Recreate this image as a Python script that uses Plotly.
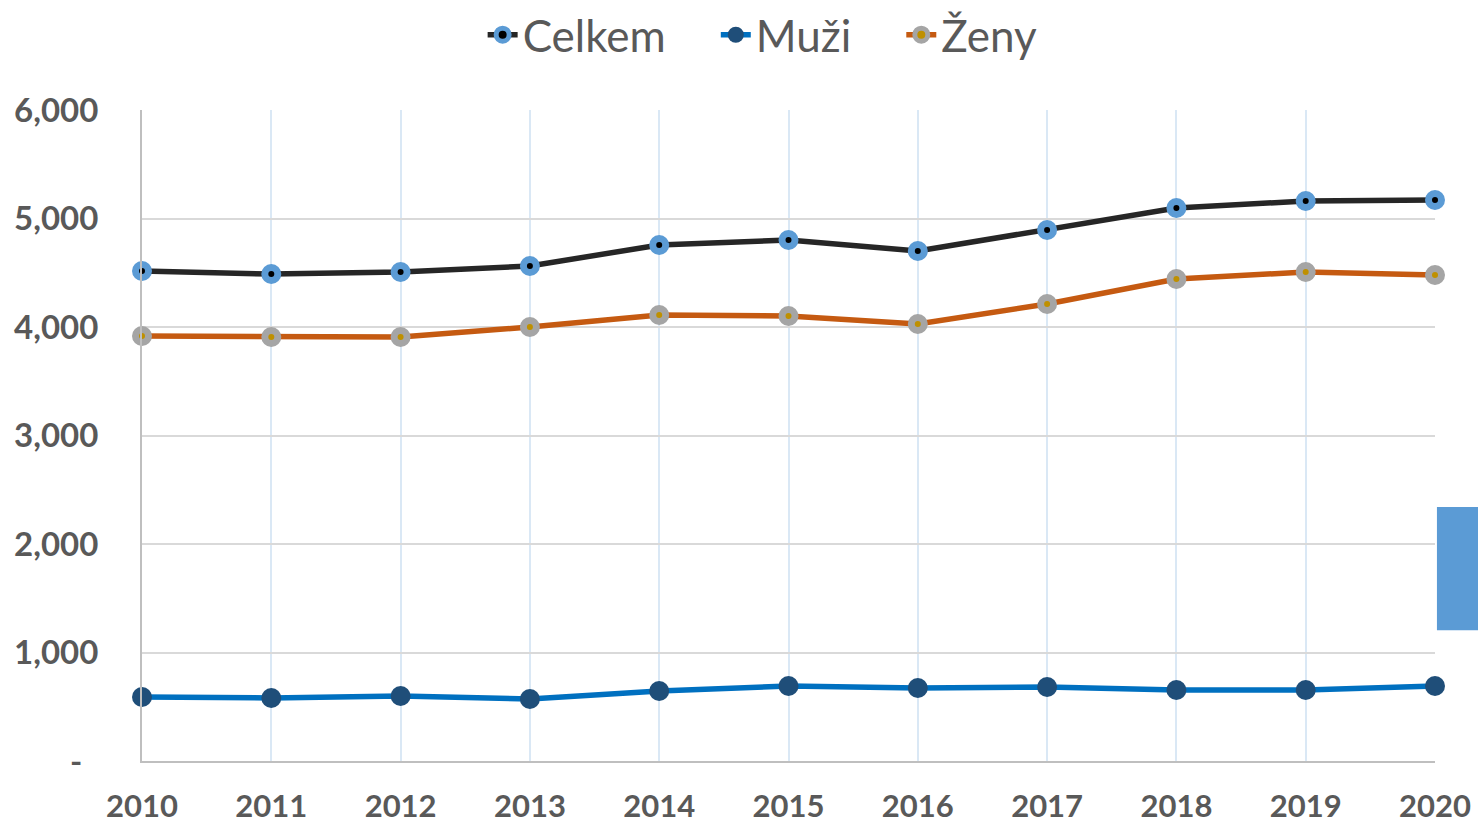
import plotly.graph_objects as go

# data
years = [2010, 2011, 2012, 2013, 2014, 2015, 2016, 2017, 2018, 2019, 2020]
celkem = [4516, 4488, 4507, 4562, 4756, 4802, 4700, 4894, 5097, 5161, 5171]
muzi = [590, 581, 599, 571, 645, 691, 673, 682, 654, 654, 691]
zeny = [3917, 3908, 3908, 4000, 4111, 4101, 4028, 4212, 4442, 4507, 4479]

y_ticks = [0, 1000, 2000, 3000, 4000, 5000, 6000]
y_tick_text = ["-\u00a0\u00a0", "1,000", "2,000", "3,000", "4,000", "5,000", "6,000"]

TEXT = "#595959"
FONT = "Lato, Open Sans, sans-serif"
PAD = "\u00a0" * 4

fig = go.Figure()

fig.add_trace(go.Scatter(
    x=years, y=celkem, name="Celkem" + PAD, mode="lines+markers",
    line=dict(color="#262626", width=5.5),
    marker=dict(size=13, color="#000000", line=dict(color="#5b9bd5", width=7)),
    cliponaxis=False,
))
fig.add_trace(go.Scatter(
    x=years, y=muzi, name="Muži" + PAD, mode="lines+markers",
    line=dict(color="#0070c0", width=5.5),
    marker=dict(size=20, color="#1f4e79"),
    cliponaxis=False,
))
fig.add_trace(go.Scatter(
    x=years, y=zeny, name="Ženy", mode="lines+markers",
    line=dict(color="#c55a11", width=5.5),
    marker=dict(size=13, color="#bf9000", line=dict(color="#a5a5a5", width=7)),
    cliponaxis=False,
))

# partial blue box poking in from the right edge
fig.add_shape(
    type="rect", xref="paper", yref="paper",
    x0=1.0015, x1=1.1, y0=0.201, y1=0.390,
    fillcolor="#5b9bd5", line=dict(width=0), layer="above",
)

fig.update_layout(
    width=1478, height=823,
    plot_bgcolor="white", paper_bgcolor="white",
    margin=dict(l=142, r=43, t=110, b=62, autoexpand=False),
    font=dict(family=FONT, color=TEXT),
    showlegend=True,
    legend=dict(
        orientation="h", x=0.48, xanchor="center", y=1.115, yanchor="middle",
        font=dict(size=44, color=TEXT, family=FONT),
        bgcolor="rgba(0,0,0,0)",
    ),
)
fig.update_xaxes(
    range=[2010, 2020], tickmode="array", tickvals=years,
    showgrid=True, gridcolor="#dae8f5", gridwidth=1.5,
    showline=True, linecolor="#bfbfbf", linewidth=2,
    zeroline=False, ticks="", ticklabelstandoff=17, automargin=False,
    tickfont=dict(size=31, color=TEXT, family=FONT, weight="bold"),
)
fig.update_yaxes(
    range=[0, 6000], tickmode="array", tickvals=y_ticks, ticktext=y_tick_text,
    showgrid=True, gridcolor="#d9d9d9", gridwidth=2,
    showline=True, linecolor="#bfbfbf", linewidth=2,
    zeroline=False, ticks="", ticklabelstandoff=35, automargin=False,
    tickfont=dict(size=33, color=TEXT, family=FONT, weight="bold"),
)

# drop the default 8px body margin so the figure fills the window exactly
fig.write_html(
    "out.html",
    config={"displayModeBar": False},
    post_script="document.body.style.margin='0';document.body.style.overflow='hidden';",
)
